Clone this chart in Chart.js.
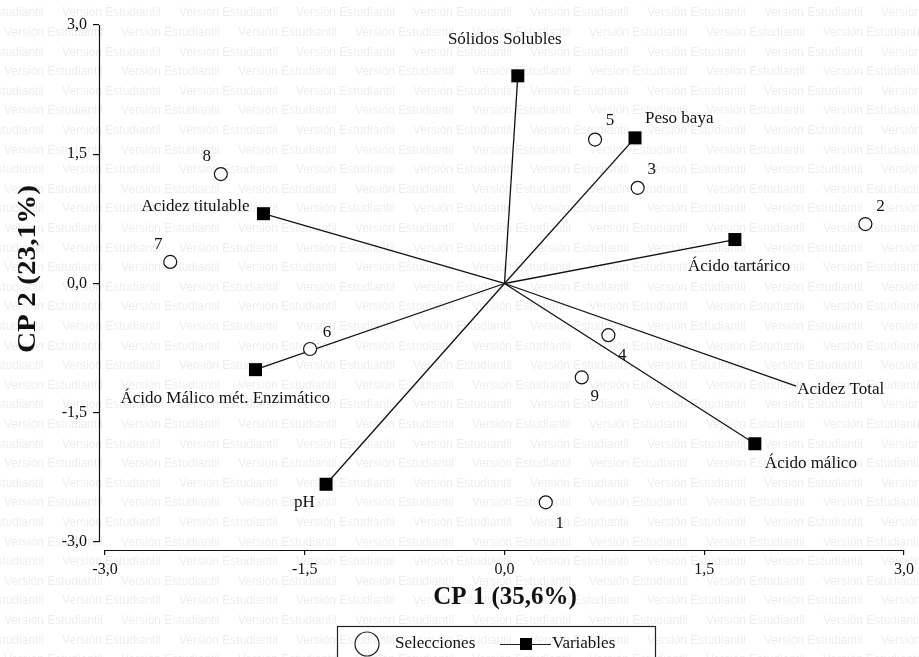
<!DOCTYPE html>
<html>
<head>
<meta charset="utf-8">
<script src="https://cdn.jsdelivr.net/npm/chart.js@4/dist/chart.umd.min.js"></script>
<style>
  html, body { margin: 0; padding: 0; background: #fff; }
  #wrap { width: 919px; height: 657px; }
</style>
</head>
<body>
<div id="wrap"><canvas id="biplot" width="919" height="657"></canvas></div>
<script>
// Principal component scores of the selections (CP1, CP2)
const selectionNames = ['1', '2', '3', '4', '5', '6', '7', '8', '9'];
const selectionCP1 = [0.31, 2.71, 1.00, 0.78, 0.68, -1.46, -2.51, -2.13, 0.58];
const selectionCP2 = [-2.54, 0.69, 1.11, -0.60, 1.67, -0.76, 0.25, 1.27, -1.09];

// Loadings of the measured variables (CP1, CP2)
const variableNames = ['Sólidos Solubles', 'Peso baya', 'Ácido tartárico', 'Acidez Total',
  'Ácido málico', 'pH', 'Ácido Málico mét. Enzimático', 'Acidez titulable'];
const variableCP1 = [0.10, 0.98, 1.73, 2.19, 1.88, -1.34, -1.87, -1.81];
const variableCP2 = [2.41, 1.69, 0.51, -1.19, -1.86, -2.33, -1.00, 0.81];

const axisTicks = [-3, -1.5, 0, 1.5, 3];
const xTitle = 'CP 1 (35,6%)';
const yTitle = 'CP 2 (23,1%)';
const legendSelections = 'Selecciones';
const legendVariables = 'Variables';

// Label placement (pixel offsets from each mark) and marker visibility
const selectionLabelOffsets = [[14, 21], [15, -18], [14, -18], [14, 20], [15, -19], [17, -16], [-12, -17], [-14, -18], [13, 19]];
const variableLabelPlacement = [
  ['center', -13, -36], ['left', 10, -19], ['left', -47, 27], ['left', 1, 4],
  ['left', 10, 20], ['left', -32, 18], ['left', -135, 29], ['right', -14, -7]
];
const variableShowMarker = [true, true, true, false, true, true, true, true];

const SERIF = '"Liberation Serif", "Times New Roman", serif';
const fmt = v => v.toFixed(1).replace('.', ',');

const datasets = [];
datasets.push({
  label: legendSelections,
  data: selectionCP1.map((x, i) => ({ x, y: selectionCP2[i] })),
  showLine: false,
  pointStyle: 'circle',
  pointRadius: 6.5,
  pointBackgroundColor: '#fff',
  pointBorderColor: '#111',
  pointBorderWidth: 1.2
});
variableNames.forEach((name, i) => {
  datasets.push({
    label: name,
    data: [{ x: 0, y: 0 }, { x: variableCP1[i], y: variableCP2[i] }],
    showLine: true,
    borderColor: '#111',
    borderWidth: 1.3,
    pointStyle: 'rect',
    pointRadius: [0, variableShowMarker[i] ? 9.2 : 0],
    pointBackgroundColor: '#000',
    pointBorderWidth: 0
  });
});

const biplotDecor = {
  id: 'biplotDecor',
  beforeDraw(chart) {
    const ctx = chart.ctx;
    ctx.save();
    ctx.fillStyle = '#fff';
    ctx.fillRect(0, 0, chart.width, chart.height);
    // faint repeated watermark
    ctx.fillStyle = 'rgba(0,0,0,0.075)';
    ctx.font = '12px "Liberation Sans", Arial, sans-serif';
    ctx.textBaseline = 'middle';
    for (let r = -1; r < 35; r++) {
      const y = 13 + r * 19.6;
      const start = (r % 2 === 0 ? 62 : 4) - 117 * 2;
      for (let x = start; x < chart.width + 117; x += 117) {
        ctx.fillText('Versión Estudiantil', x, y);
      }
    }
    ctx.restore();
  },
  afterDraw(chart) {
    const ctx = chart.ctx;
    const xs = chart.scales.x, ys = chart.scales.y;
    ctx.save();
    // axis lines spanning the tick range only
    ctx.strokeStyle = '#111';
    ctx.lineWidth = 1.2;
    ctx.beginPath();
    const ax = chart.chartArea.left + 0.5;
    ctx.moveTo(ax, ys.getPixelForValue(3));
    ctx.lineTo(ax, ys.getPixelForValue(-3));
    const ay = chart.chartArea.bottom + 0.5;
    ctx.moveTo(xs.getPixelForValue(-3), ay);
    ctx.lineTo(xs.getPixelForValue(3), ay);
    ctx.stroke();

    ctx.fillStyle = '#111';
    ctx.textBaseline = 'middle';
    // point labels
    ctx.font = '17px ' + SERIF;
    ctx.textAlign = 'center';
    selectionNames.forEach((n, i) => {
      const px = xs.getPixelForValue(selectionCP1[i]);
      const py = ys.getPixelForValue(selectionCP2[i]);
      ctx.fillText(n, px + selectionLabelOffsets[i][0], py + selectionLabelOffsets[i][1]);
    });
    variableNames.forEach((n, i) => {
      const px = xs.getPixelForValue(variableCP1[i]);
      const py = ys.getPixelForValue(variableCP2[i]);
      const [al, dx, dy] = variableLabelPlacement[i];
      ctx.textAlign = al;
      ctx.fillText(n, px + dx, py + dy);
    });

    // axis titles
    ctx.font = 'bold 25px ' + SERIF;
    ctx.textAlign = 'center';
    ctx.fillText(xTitle, 505, 598);
    ctx.save();
    ctx.translate(29, 269);
    ctx.rotate(-Math.PI / 2);
    ctx.scale(1.17, 1);
    ctx.fillText(yTitle, 0, 0);
    ctx.restore();

    // legend box
    ctx.strokeStyle = '#222';
    ctx.lineWidth = 1.2;
    ctx.strokeRect(337.5, 626.5, 318, 40);
    ctx.beginPath();
    ctx.arc(367, 644, 12, 0, Math.PI * 2);
    ctx.stroke();
    ctx.font = '17px ' + SERIF;
    ctx.textAlign = 'left';
    ctx.fillText(legendSelections, 395, 644);
    ctx.beginPath();
    ctx.moveTo(500, 644.5);
    ctx.lineTo(551, 644.5);
    ctx.stroke();
    ctx.fillStyle = '#000';
    ctx.fillRect(520, 638, 12, 12);
    ctx.fillStyle = '#111';
    ctx.fillText(legendVariables, 552, 644);
    ctx.restore();
  }
};

new Chart(document.getElementById('biplot'), {
  type: 'scatter',
  data: { datasets },
  options: {
    responsive: false,
    animation: false,
    layout: { padding: { left: 0, right: 14, top: 25, bottom: 0 } },
    plugins: { legend: { display: false }, tooltip: { enabled: false } },
    scales: {
      x: {
        type: 'linear', min: -3.045, max: 3,
        afterBuildTicks: s => { s.ticks = axisTicks.map(v => ({ value: v })); },
        afterFit: s => { s.height = 107; },
        border: { display: false },
        grid: { drawOnChartArea: false, drawTicks: true, tickLength: 5, color: '#111', lineWidth: 1.2 },
        ticks: { font: { family: SERIF, size: 16 }, color: '#111', padding: 5, maxRotation: 0, callback: v => fmt(v) }
      },
      y: {
        type: 'linear', min: -3.093, max: 3,
        afterBuildTicks: s => { s.ticks = axisTicks.map(v => ({ value: v })); },
        afterFit: s => { s.width = 99; },
        border: { display: false },
        grid: { drawOnChartArea: false, drawTicks: true, tickLength: 6, color: '#111', lineWidth: 1.2 },
        ticks: { font: { family: SERIF, size: 16 }, color: '#111', padding: 6, callback: v => fmt(v) }
      }
    }
  },
  plugins: [biplotDecor]
});
</script>
</body>
</html>
